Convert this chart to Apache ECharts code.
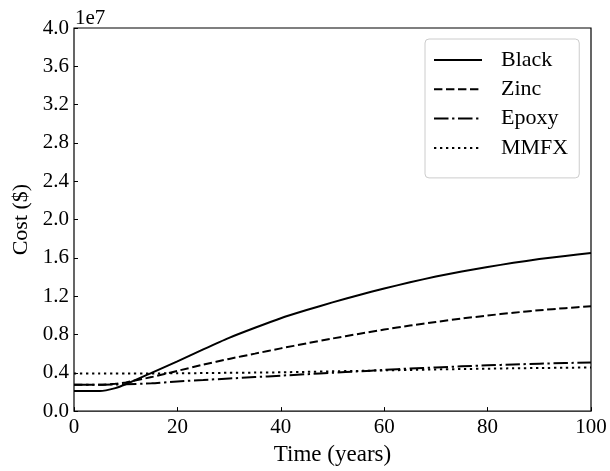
<!DOCTYPE html>
<html>
<head>
<meta charset="utf-8">
<script src="https://cdn.jsdelivr.net/npm/echarts@6/dist/echarts.min.js"></script>
<style>
  html, body { margin: 0; padding: 0; background: #fff; }
  #chart { width: 610px; height: 471px; }
</style>
</head>
<body>
<div id="chart"></div>
<script>
// Life-cycle cost of reinforcing-bar options, in units of 1e7 dollars
const years = [0, 5, 8, 10, 15, 20, 25, 30, 35, 40, 45, 50, 55, 60, 65, 70, 75, 80, 85, 90, 95, 100];
const blackCost = [0.21, 0.21, 0.24, 0.28, 0.40, 0.52, 0.645, 0.765, 0.87, 0.97, 1.055, 1.135, 1.21, 1.28, 1.345, 1.405, 1.458, 1.505, 1.548, 1.587, 1.62, 1.65];
const zincCost  = [0.275, 0.275, 0.285, 0.30, 0.355, 0.42, 0.485, 0.545, 0.60, 0.655, 0.707, 0.758, 0.806, 0.851, 0.893, 0.931, 0.966, 0.998, 1.027, 1.053, 1.075, 1.095];
const epoxyCost = [0.275, 0.275, 0.278, 0.28, 0.29, 0.31, 0.325, 0.34, 0.355, 0.37, 0.385, 0.40, 0.415, 0.43, 0.445, 0.455, 0.467, 0.478, 0.487, 0.495, 0.502, 0.507];
const mmfxCost  = [0.392, 0.392, 0.392, 0.392, 0.393, 0.395, 0.397, 0.40, 0.402, 0.405, 0.41, 0.415, 0.42, 0.425, 0.43, 0.435, 0.439, 0.443, 0.447, 0.45, 0.453, 0.455];
const seriesNames = ['Black', 'Zinc', 'Epoxy', 'MMFX'];
const yTicks = [0, 0.4, 0.8, 1.2, 1.6, 2.0, 2.4, 2.8, 3.2, 3.6, 4.0];

const FONT = '"Liberation Serif", "Times New Roman", serif';
const FS = 21;

const pairs = vals => years.map((y, i) => [y, vals[i]]);

// solid, dashed, dash-dot, dotted
const dashTypes = ['solid', [8.4, 3.6], [14.5, 3.6, 2.3, 3.6], [2.3, 3.7]];
const valueSets = [blackCost, zincCost, epoxyCost, mmfxCost];

const chart = echarts.init(document.getElementById('chart'), null, { renderer: 'canvas' });
chart.setOption({
  animation: false,
  backgroundColor: '#fff',
  textStyle: { fontFamily: FONT, color: '#000' },
  grid: {
    left: 74, right: 19, top: 28, bottom: 58,
    show: true, borderColor: '#000', borderWidth: 1.2, backgroundColor: 'transparent'
  },
  legend: {
    data: seriesNames,
    orient: 'vertical',
    left: 425, top: 39,
    itemWidth: 48, itemHeight: 20, itemGap: 7.3,
    padding: [10, 11, 19, 8],
    itemStyle: { opacity: 0 },
    backgroundColor: 'rgba(255,255,255,0.8)',
    borderColor: '#cccccc', borderWidth: 1, borderRadius: 4,
    textStyle: { fontFamily: FONT, fontSize: 22, color: '#000', padding: [0, 0, 0, 14] }
  },
  graphic: [{
    type: 'text', left: 75, top: 8,
    style: { text: '1e7', font: FS + 'px ' + FONT, fill: '#000' }
  }],
  xAxis: {
    type: 'value', min: 0, max: 100, interval: 20,
    name: 'Time (years)', nameLocation: 'middle', nameGap: 21,
    nameTextStyle: { fontFamily: FONT, fontSize: 23, color: '#000' },
    axisLine: { show: false },
    axisTick: { show: true, inside: true, length: 4, lineStyle: { color: '#000', width: 1 } },
    axisLabel: { fontFamily: FONT, fontSize: FS, color: '#000', margin: 6 },
    splitLine: { show: false }
  },
  yAxis: {
    type: 'value', min: 0, max: 4, interval: 0.4,
    name: 'Cost ($)', nameLocation: 'middle', nameGap: 40,
    nameTextStyle: { fontFamily: FONT, fontSize: 22, color: '#000' },
    axisLine: { show: false },
    axisTick: { show: true, inside: true, length: 4, lineStyle: { color: '#000', width: 1 } },
    axisLabel: {
      fontFamily: FONT, fontSize: FS, color: '#000', margin: 5,
      formatter: v => {
        const t = yTicks.find(k => Math.abs(k - v) < 1e-6);
        return (t !== undefined ? t : v).toFixed(1);
      }
    },
    splitLine: { show: false }
  },
  series: seriesNames.map((name, i) => ({
    name: name,
    type: 'line',
    data: pairs(valueSets[i]),
    showSymbol: false,
    symbol: 'none',
    smooth: 0.2,
    lineStyle: { color: '#000', width: 2, type: dashTypes[i] },
    itemStyle: { color: '#000' },
    z: 10 - i
  }))
});
</script>
</body>
</html>
